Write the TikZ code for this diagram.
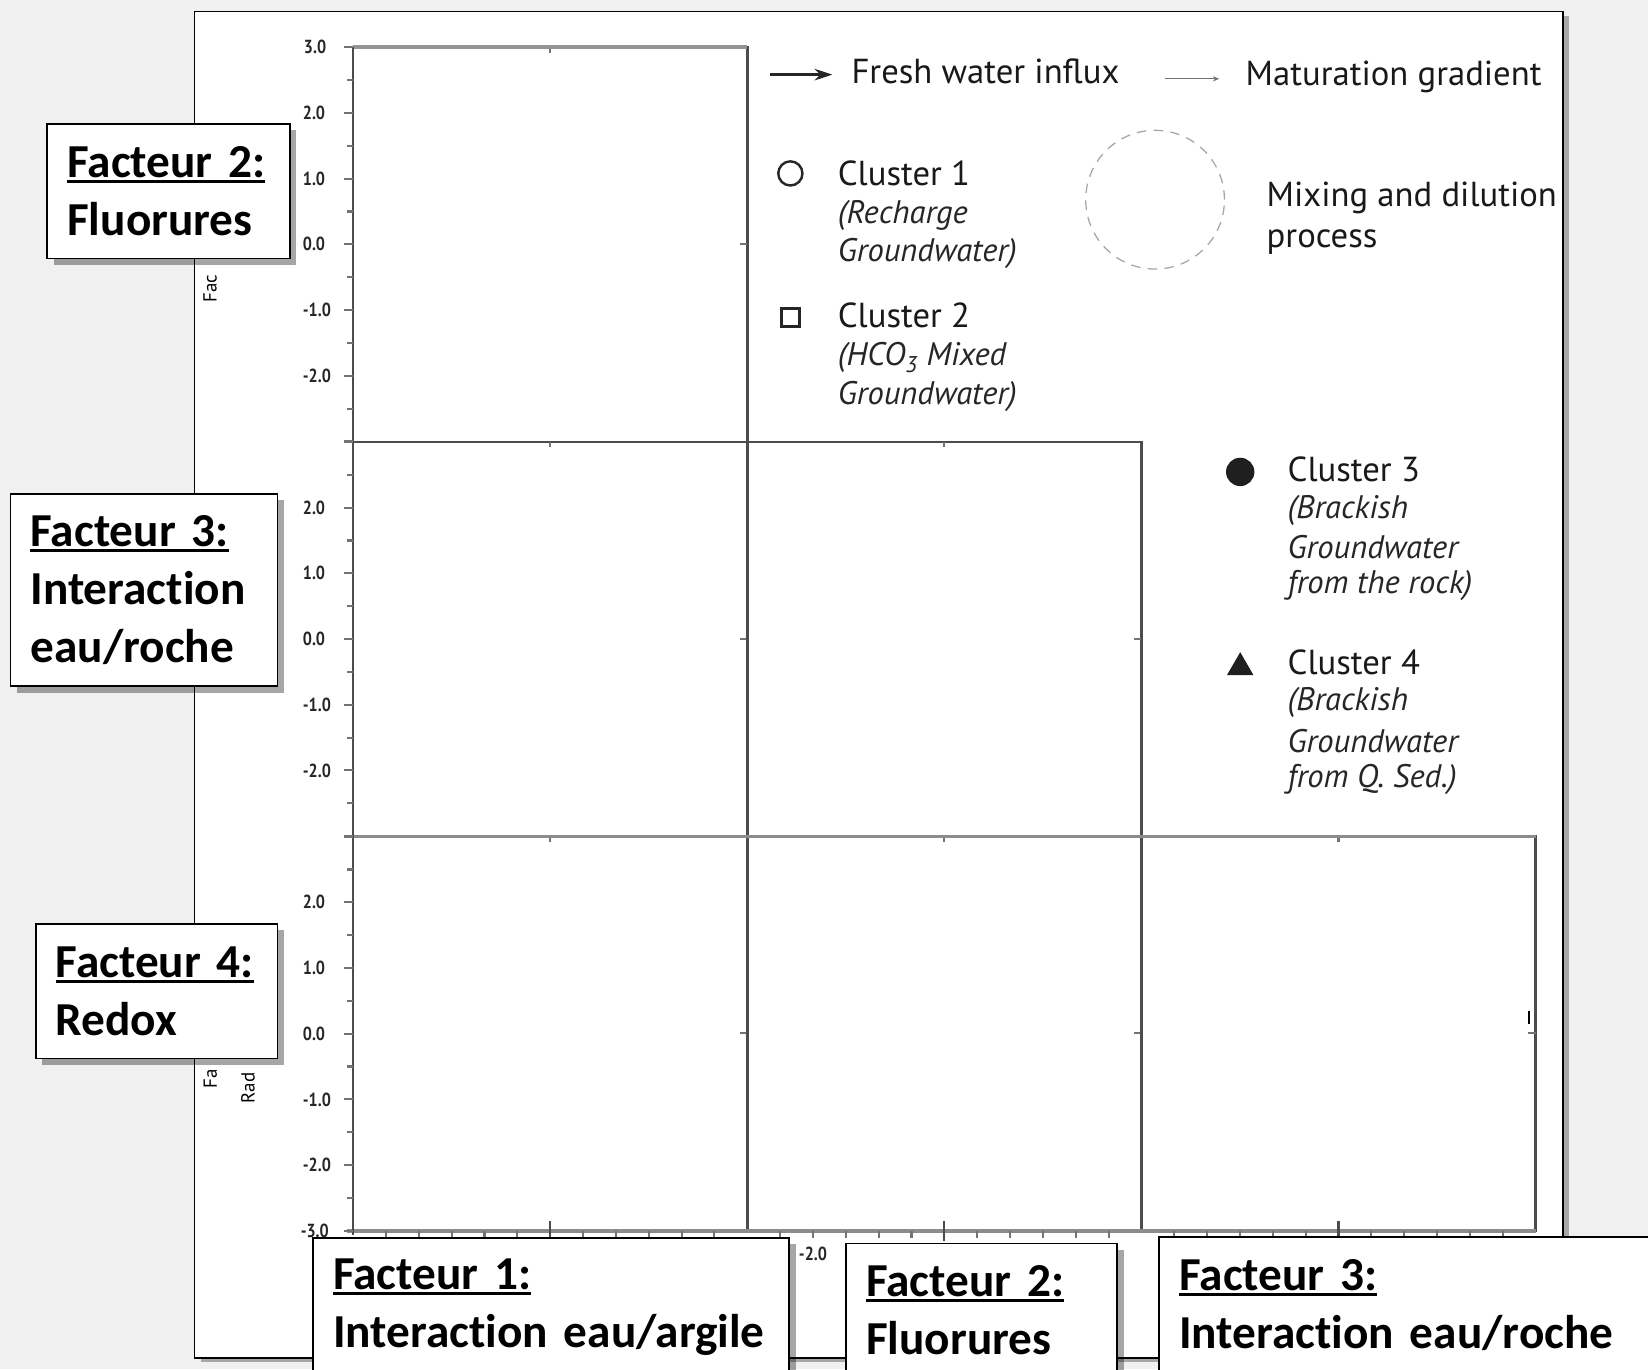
\documentclass[tikz,border=0pt]{standalone}
\usepackage{fontspec}
\setmainfont{Carlito}[Ligatures={NoCommon}]
\newfontfamily\legfont{PT Sans}
\newfontfamily\tickfont[FakeStretch=0.85]{PT Sans}
\usetikzlibrary{arrows.meta,shadows,shapes.geometric}

\newcommand{\facul}[1]{\setbox0\hbox{#1}\rlap{\rule[-5pt]{\wd0}{2.6pt}}\box0}

\tikzset{
  framebox/.style={draw=black, line width=1.6pt, fill=white, inner sep=0pt,
    drop shadow={shadow xshift=6pt, shadow yshift=-4pt, fill=black, opacity=0.3}},
  facbox/.style={draw=black, line width=1.6pt, fill=white, inner xsep=19pt, inner ysep=0pt,
    align=left, font=\fontsize{45}{55}\selectfont\bfseries,
    drop shadow={shadow xshift=6pt, shadow yshift=-6pt, fill=black, opacity=0.35}},
  axline/.style={draw=black!70, line width=2.4pt},
  tickmark/.style={draw=black!55, line width=2pt},
  ticklab/.style={anchor=west, inner sep=0pt, text=black!85, font=\tickfont\bfseries\fontsize{18}{20}\selectfont},
  leg/.style={anchor=west, inner sep=0pt, text=black!90, font=\legfont\fontsize{33}{38}\selectfont},
  legit/.style={anchor=west, inner sep=0pt, text=black!85, font=\legfont\itshape\fontsize{31}{36}\selectfont},
  frag/.style={rotate=90, anchor=west, inner sep=0pt, font=\legfont\fontsize{18}{20}\selectfont}
}

\begin{document}
\begin{tikzpicture}[x=1pt,y=-1pt]
  \def\u{62.5}   % one unit on the axes
  \fill[black!6] (0,0) rectangle (1568,1303);
  \useasboundingbox (0,0) rectangle (1568,1303);

  % outer frame
  \node[framebox, minimum width=1302pt, minimum height=1281pt] (frame) at (836,651.5) {};

  % fragments of the hidden axis titles
  \node[frag] (fy2) at (200,288) {Fac};
  \node[frag] (fy4) at (200,1036) {Fa};
  \node[frag] (ry4) at (236,1050) {Rad};

  % scatter panels
  \foreach \c/\r in {0/0, 0/1, 1/1, 0/2, 1/2, 2/2} {
    \draw[axline] (336+375*\c,45+375.33*\r) rectangle (711+375*\c,420.33+375.33*\r);
    \draw[tickmark] (523.5+375*\c,45+375.33*\r) -- +(0,5);
    \draw[tickmark] (711+375*\c,232.5+375.33*\r) -- +(-7,0);
  }
  \draw[draw=black!42, line width=4pt] (336,45) -- (711,45);
  \draw[draw=black!45, line width=3pt] (336,796) -- (1461,796);
  \draw[draw=black!45, line width=4pt] (330,1171) -- (1461,1171);
  \draw[axline] (336,45) -- (336,1175);

  % y axis ticks and values
  \foreach \yc in {232.5, 608, 983.5} {
    \foreach \v in {-3,...,3} { \draw[tickmark] (336,\yc-\u*\v) -- +(-9,0); }
    \foreach \v in {-2.5,-1.5,...,2.5} { \draw[tickmark] (336,\yc-\u*\v) -- +(-6,0); }
    \foreach \v in {-2,...,2} { \node[ticklab] (yl\v) at (288,\yc-\u*\v) {\v.0}; }
  }
  \node[ticklab] (yl3) at (289,45) {3.0};
  \node[ticklab] (ylm3) at (286,1171) {-3.0};

  % x axis ticks
  \foreach \c in {0,1,2} {
    \foreach \k in {-5,...,5} { \draw[tickmark] (523.5+375*\c+31.25*\k,1171) -- +(0,7); }
    \draw[axline, line width=2pt] (523.5+375*\c,1162) -- +(0,19);
  }
  \node[ticklab] (xl) at (760,1193) {-2.0};
  \draw[black, line width=2pt] (1455,962) -- (1455,974);

  % legend
  \coordinate (fw0) at (733,71);
  \coordinate (fw1) at (792,71);
  \draw[black!85, line width=2.2pt, -{Stealth[length=17pt,width=11pt]}] (fw0) -- (fw1);
  \node[leg] (fresh) at (810,68) {Fresh water influx};
  \coordinate (mg0) at (1108,75);
  \coordinate (mg1) at (1160,75);
  \draw[black!55, line width=1pt, -{Stealth[length=6pt,width=5pt]}] (mg0) -- (mg1);
  \node[leg] (matur) at (1185,73) {Maturation gradient};

  \node[circle, draw=black!85, line width=2.3pt, minimum size=23pt, inner sep=0pt] (m1) at (752,165) {};
  \node[leg] (c1) at (797,165) {Cluster 1};
  \node[legit] (c1a) at (797,205) {(Recharge};
  \node[legit] (c1b) at (797,241) {Groundwater)};

  \node[circle, draw=black!35, line width=1.2pt, dash pattern=on 9pt off 7pt, minimum size=132pt] (mix) at (1099,190) {};
  \node[leg] (mixa) at (1205,188) {Mixing and dilution};
  \node[leg] (mixb) at (1205,230) {process};

  \node[rectangle, draw=black!85, line width=2.3pt, minimum size=17pt, inner sep=0pt] (m2) at (752,302) {};
  \node[leg] (c2) at (797,300) {Cluster 2};
  \node[legit] (c2a) at (797,340) {(HCO\textsubscript{3} Mixed};
  \node[legit] (c2b) at (797,377) {Groundwater)};

  \node[circle, fill=black!88, minimum size=27pt, inner sep=0pt] (m3) at (1180,449) {};
  \node[leg] (c3) at (1225,447) {Cluster 3};
  \node[legit] (c3a) at (1225,486) {(Brackish};
  \node[legit] (c3b) at (1225,521) {Groundwater};
  \node[legit] (c3c) at (1225,557) {from the rock)};

  \node[regular polygon, regular polygon sides=3, fill=black!88, minimum size=29pt, inner sep=0pt] (m4) at (1180,635) {};
  \node[leg] (c4) at (1225,630) {Cluster 4};
  \node[legit] (c4a) at (1225,668) {(Brackish};
  \node[legit] (c4b) at (1225,705) {Groundwater};
  \node[legit] (c4c) at (1225,742) {from Q. Sed.)};

  % factor boxes
  \node[facbox, minimum width=231pt, minimum height=128pt, text width=193pt] (f2y) at (160.5,182) {\facul{Facteur 2:}\\Fluorures};
  \node[facbox, minimum width=254pt, minimum height=183pt, text width=216pt] (f3y) at (137,561.5) {\facul{Facteur 3:}\\Interaction\\eau/roche};
  \node[facbox, minimum width=230pt, minimum height=128pt, text width=192pt] (f4y) at (149,943) {\facul{Facteur 4:}\\Redox};
  \node[facbox, minimum width=453pt, minimum height=131pt, text width=415pt] (f1x) at (524.5,1243.5) {\facul{Facteur 1:}\\Interaction eau/argile};
  \node[facbox, minimum width=258pt, minimum height=127pt, text width=220pt] (f2x) at (934,1246.5) {\facul{Facteur 2:}\\Fluorures};
  \node[facbox, minimum width=480pt, minimum height=129pt, text width=442pt] (f3x) at (1343,1241.5) {\facul{Facteur 3:}\\Interaction eau/roche};
\end{tikzpicture}
\end{document}
